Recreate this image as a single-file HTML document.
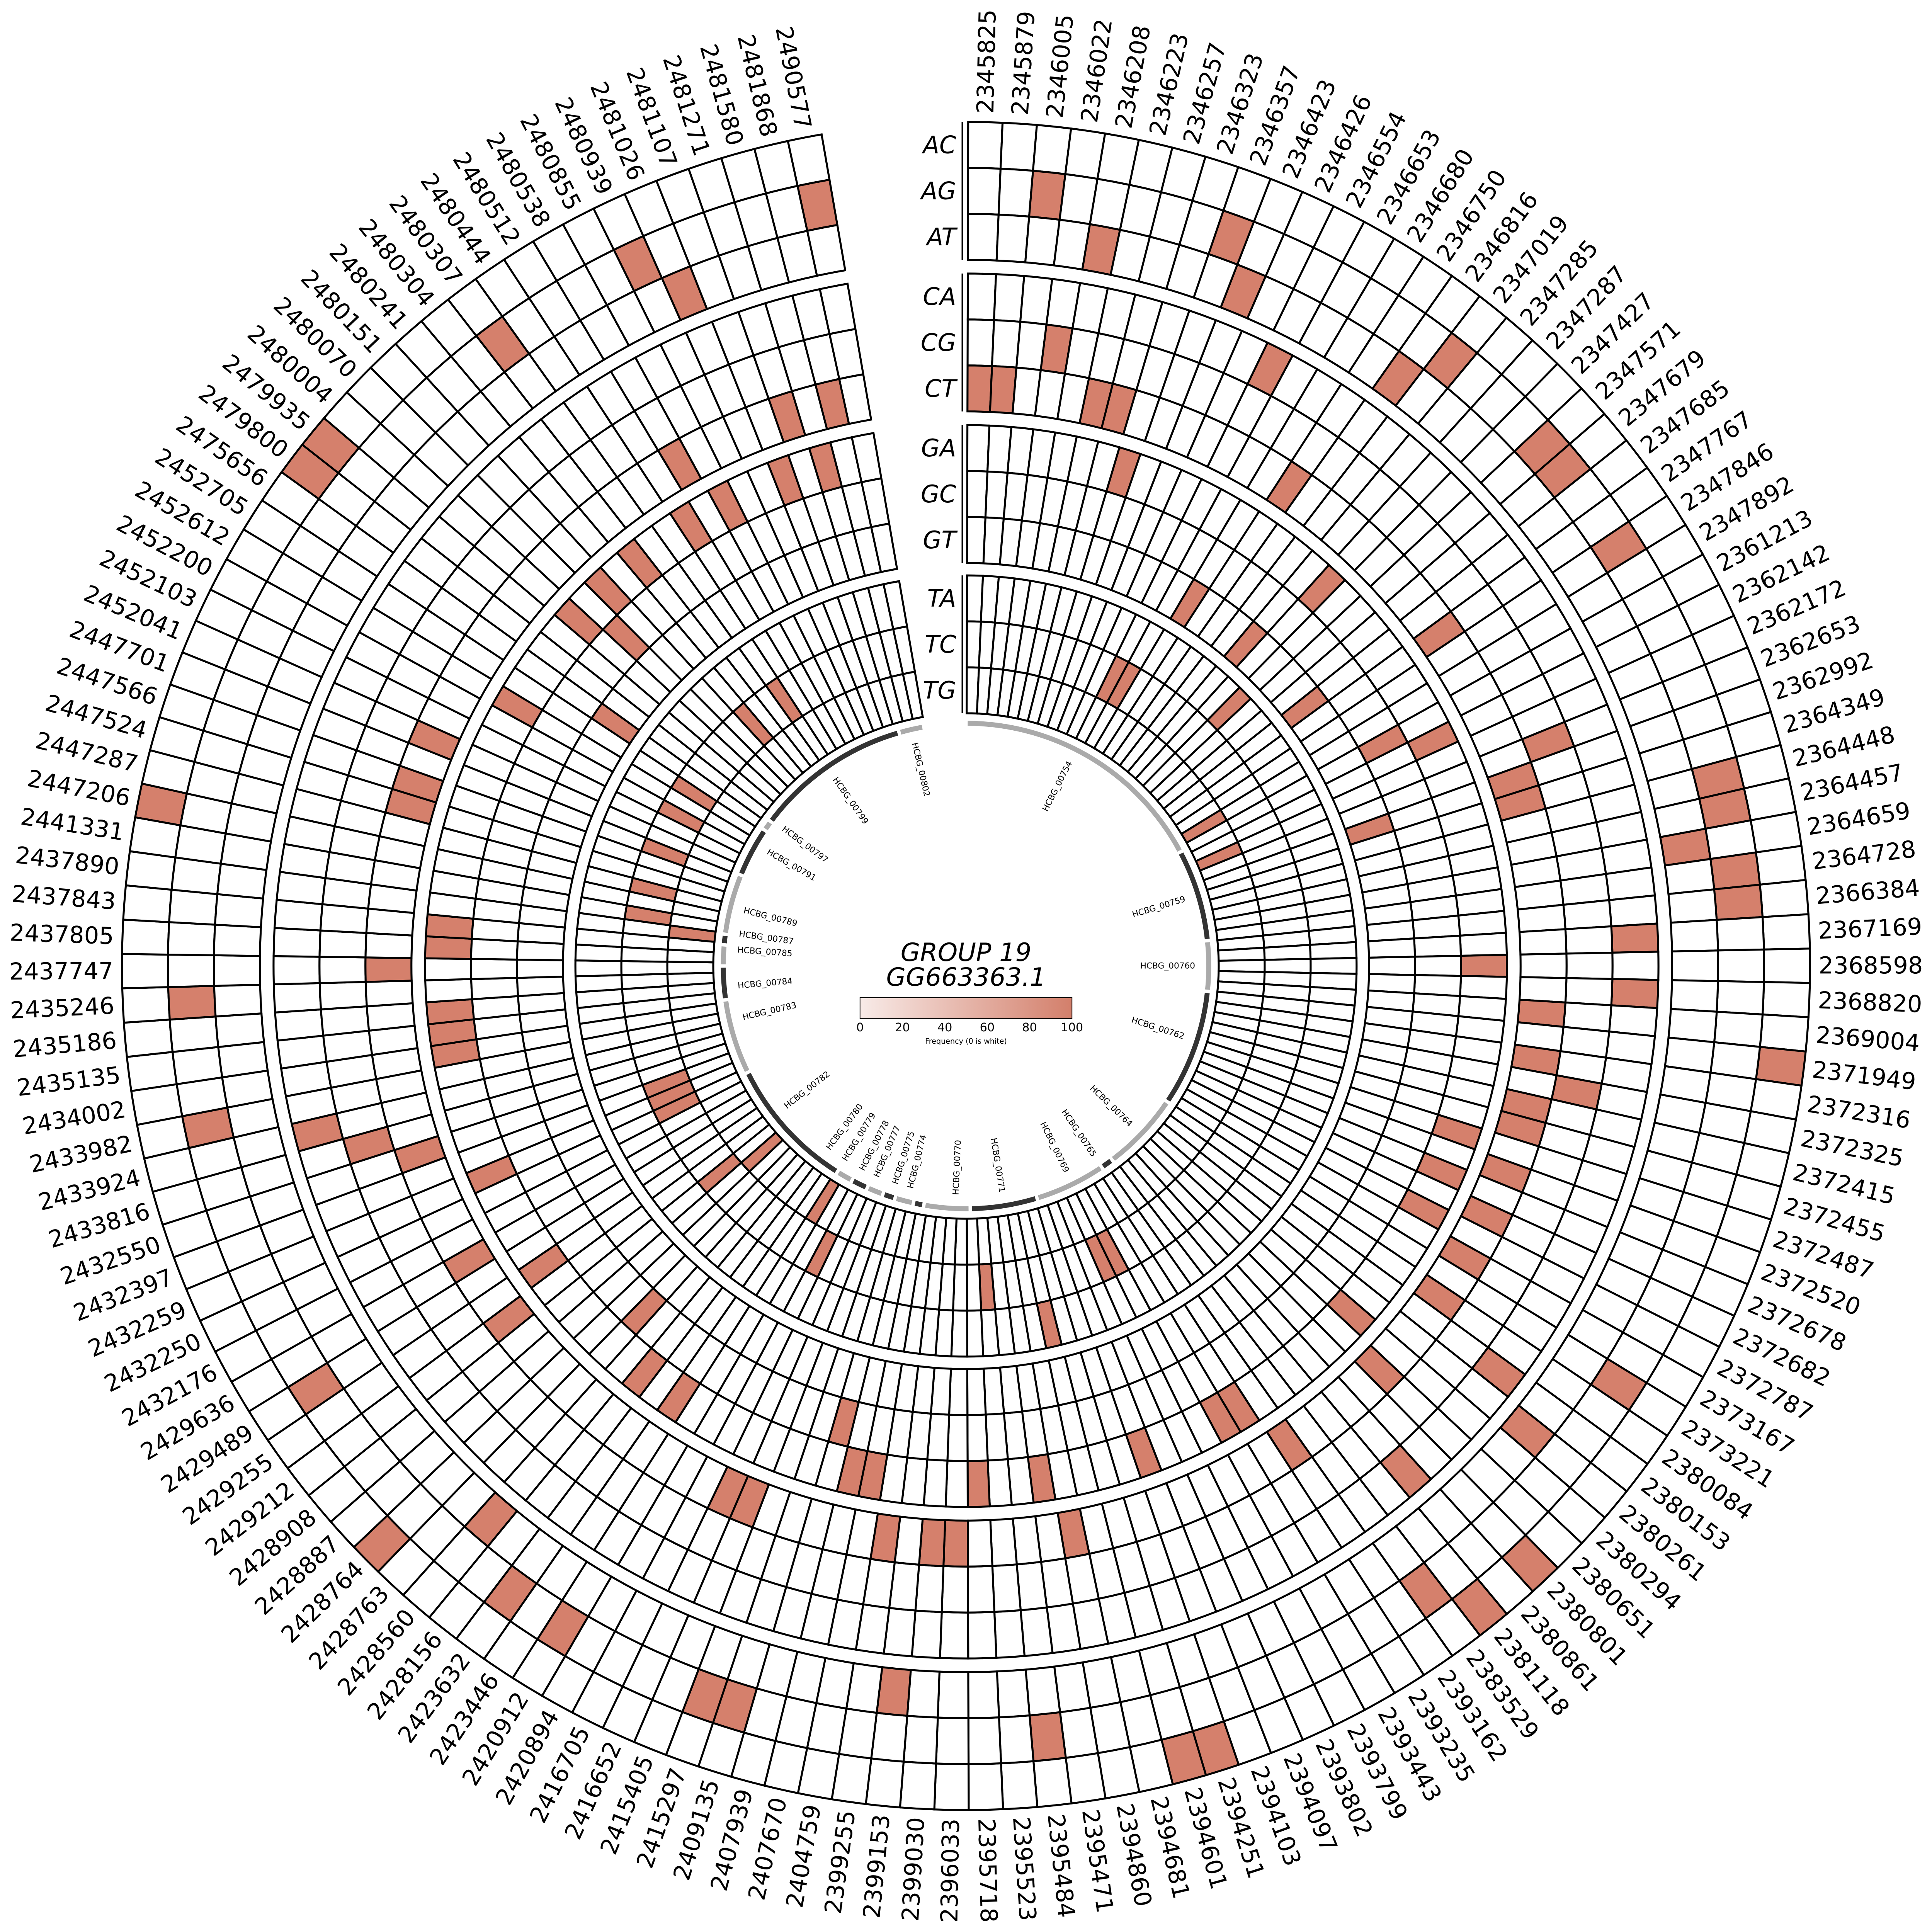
<!DOCTYPE html>
<html><head><meta charset="utf-8">
<style>
html,body{margin:0;padding:0;background:#fff;overflow:hidden;width:100vw;height:100vh;}
svg{display:block;width:100vw;height:100vh;}
text{font-family:"DejaVu Sans","Liberation Sans",sans-serif;}
</style></head>
<body>
<svg id="c" xmlns="http://www.w3.org/2000/svg" viewBox="0 0 1568 1568" preserveAspectRatio="xMidYMid meet">
<rect width="1568" height="1568" fill="#fff"/>
<defs><linearGradient id="g" x1="0" x2="1" y1="0" y2="0"><stop offset="0" stop-color="#f8ebe8"/><stop offset="1" stop-color="#d37f6b"/></linearGradient></defs>
<text x="784" y="780" text-anchor="middle" font-size="20.5" font-style="italic">GROUP 19</text>
<text x="784" y="800" text-anchor="middle" font-size="20.5" font-style="italic">GG663363.1</text>
<rect x="698" y="809.7" width="172" height="17" fill="url(#g)" stroke="#000" stroke-width="0.6"/>
<g font-size="9.5" text-anchor="middle">
<text x="698" y="837">0</text><text x="732.4" y="837">20</text><text x="766.8" y="837">40</text><text x="801.2" y="837">60</text><text x="835.6" y="837">80</text><text x="870" y="837">100</text>
</g>
<text x="784" y="847" text-anchor="middle" font-size="6">Frequency (0 is white)</text>
</svg>
<script>
(function(){
var svg=document.getElementById('c');
var cx=784,cy=784,N=150,st=0.15,step=350/150;
var labels="2345825 2345879 2346005 2346022 2346208 2346223 2346257 2346323 2346357 2346423 2346426 2346554 2346653 2346680 2346750 2346816 2347019 2347285 2347287 2347427 2347571 2347679 2347685 2347767 2347846 2347892 2361213 2362142 2362172 2362653 2362992 2364349 2364448 2364457 2364659 2364728 2366384 2367169 2368598 2368820 2369004 2371949 2372316 2372325 2372415 2372455 2372487 2372520 2372678 2372682 2372787 2373167 2373221 2380084 2380153 2380261 2380294 2380651 2380801 2380861 2381118 2383529 2393162 2393235 2393443 2393799 2393802 2394097 2394103 2394251 2394601 2394681 2394860 2395471 2395484 2395523 2395718 2396033 2399030 2399153 2399255 2404759 2407670 2407939 2409135 2415297 2415405 2416652 2416705 2420894 2420912 2423446 2423632 2428156 2428560 2428763 2428764 2428887 2428908 2429212 2429255 2429489 2429636 2432176 2432250 2432259 2432397 2432550 2433816 2433924 2433982 2434002 2435135 2435186 2435246 2437747 2437805 2437843 2437890 2441331 2447206 2447287 2447524 2447566 2447701 2452041 2452103 2452200 2452612 2452705 2475656 2479800 2479935 2480004 2480070 2480151 2480241 2480304 2480307 2480444 2480512 2480538 2480855 2480939 2481026 2481107 2481271 2481580 2481868 2490577".split(" ");
var filled=[
[41,58,60,69,70,96,120,131,132],
[2,8,16,20,21,24,32,33,35,36,52,61,74,84,85,90,92,101,110,114,138,143,149],
[4,9,15,34,55,79,94,144],
[11,37,39,54,59,109],
[3,29,43,108],
[0,1,5,6,14,23,30,31,40,42,44,45,47,49,51,53,57,62,72,77,78,80,86,87,99,102,107,115,122,123,125,141,146,148],
[7,18,27,38,46,48,50,56,63,64,68,73,76,81,82,91,93,100,105,111,112,113,116,117,128,133,135,137,140,142,145,147],
[26,83,95,134],
[13,17,22,30,130],
[19,71],
[11,12,65,66,75,88,98,104,105,106,119,121,124,127,129,136,139],
[25,28,90,97,118]];
var rows=["AC","AG","AT","CA","CG","CT","GA","GC","GT","TA","TC","TG"];
var gOuter=[685,562,439,317],th=37.3;
function pt(r,t){var a=t*Math.PI/180;return [(cx+r*Math.sin(a)).toFixed(2),(cy-r*Math.cos(a)).toFixed(2)];}
function sec(r1,r2,t1,t2){var a=pt(r2,t1),b=pt(r2,t2),c=pt(r1,t2),d=pt(r1,t1);
return "M"+a+"A"+r2+","+r2+" 0 0 1 "+b+"L"+c+"A"+r1+","+r1+" 0 0 0 "+d+"Z";}
var h="";
for(var i=0;i<12;i++){
 var g=Math.floor(i/3),ri=i%3;
 var r2=gOuter[g]-ri*th,r1=r2-th;
 var set={};filled[i].forEach(function(k){set[k]=1;});
 for(var k=0;k<N;k++){
  var t1=st+k*step,t2=t1+step;
  h+='<path d="'+sec(r1,r2,t1,t2)+'" fill="'+(set[k]?'#d5806c':'#fff')+'" stroke="#000" stroke-width="1.6"/>';
 }
 var rc=(r1+r2)/2;
 h+='<text x="776" y="'+(cy-rc)+'" text-anchor="end" dominant-baseline="central" font-size="19.5" font-style="italic">'+rows[i]+'</text>';
}
for(var g=0;g<4;g++){h+='<line x1="781" x2="781" y1="'+(cy-gOuter[g])+'" y2="'+(cy-gOuter[g]+3*th)+'" stroke="#000" stroke-width="1.2"/>';}
for(var k=0;k<N;k++){
 var t=st+(k+0.5)*step,p=pt(692,t);
 if(t<180){h+='<text x="'+p[0]+'" y="'+p[1]+'" font-size="19" dominant-baseline="central" transform="rotate('+(t-90).toFixed(2)+' '+p[0]+' '+p[1]+')">'+labels[k]+'</text>';}
 else{h+='<text x="'+p[0]+'" y="'+p[1]+'" font-size="19" text-anchor="end" dominant-baseline="central" transform="rotate('+(t+90).toFixed(2)+' '+p[0]+' '+p[1]+')">'+labels[k]+'</text>';}
}
var genes=[["00754",0,62,0],["00759",62,84,1],["00760",84,96,0],["00762",96,124,1],["00764",124,143,0],["00765",143,146,1],["00769",146,163,0],["00771",163,179,1],["00770",179,190,0],["00774",190,192.5,1],["00775",192.5,197,0],["00777",197,200,1],["00778",200,204,0],["00779",204,208,1],["00780",208,212,0],["00782",212,244,1],["00783",244,262,0],["00784",262,270,1],["00785",270,275,0],["00787",275,277.5,1],["00789",277.5,292,0],["00791",292,304,1],["00797",304,306.5,0],["00799",306.5,344,1],["00802",344,350,0]];
var gl={"00754":27,"00759":73,"00760":90,"00762":108,"00764":134,"00765":146,"00769":154,"00771":171,"00770":182.5,"00774":194,"00775":198,"00777":203,"00778":207,"00779":212,"00780":217,"00782":232,"00783":257,"00784":265,"00785":274,"00787":278,"00789":284,"00791":300,"00797":307,"00799":325,"00802":347};
genes.forEach(function(s){
 var a=s[1]+0.4,b=s[2]-0.4;var p1=pt(197,a),p2=pt(197,b);
 h+='<path d="M'+p1+'A197,197 0 '+((b-a)>180?1:0)+' 1 '+p2+'" fill="none" stroke="'+(s[3]?'#333':'#aaa')+'" stroke-width="4"/>';
 var t=gl[s[0]],p=pt(186,t);
 if(t<180){h+='<text x="'+p[0]+'" y="'+p[1]+'" font-size="6.8" text-anchor="end" dominant-baseline="central" transform="rotate('+(t-90)+' '+p[0]+' '+p[1]+')">HCBG_'+s[0]+'</text>';}
 else{h+='<text x="'+p[0]+'" y="'+p[1]+'" font-size="6.8" dominant-baseline="central" transform="rotate('+(t+90)+' '+p[0]+' '+p[1]+')">HCBG_'+s[0]+'</text>';}
});
svg.insertAdjacentHTML('beforeend',h);
})();
</script>
</body></html>
